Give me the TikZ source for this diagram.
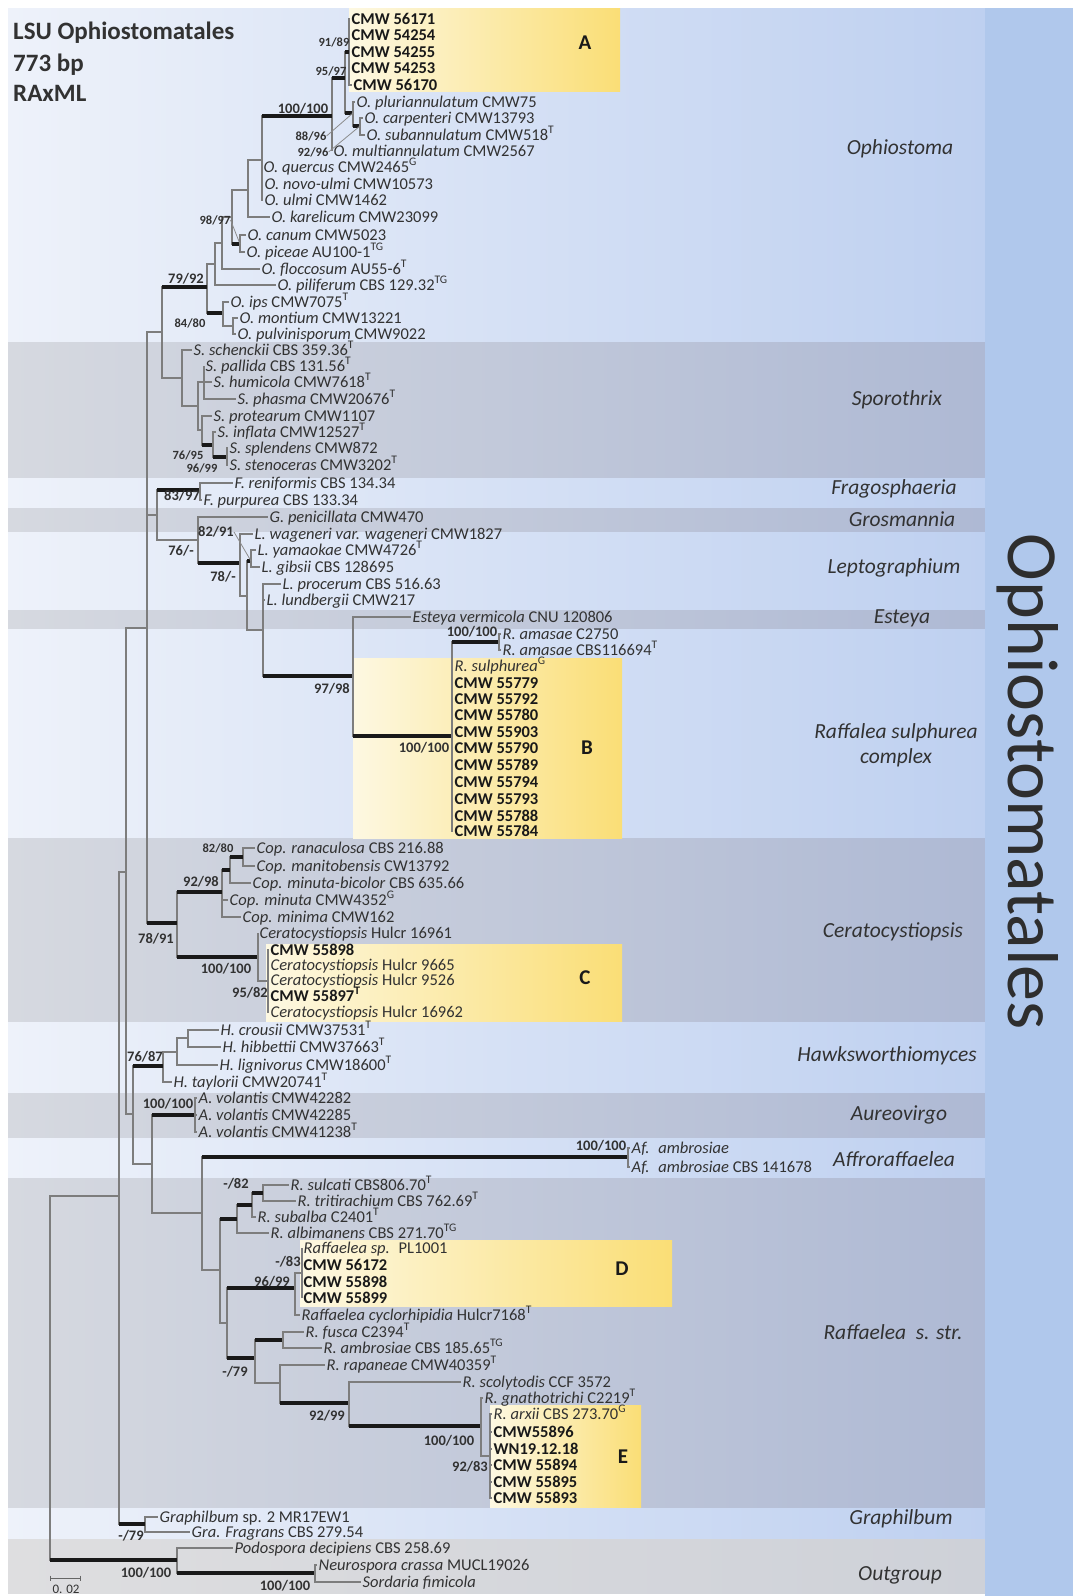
\documentclass[tikz,border=0pt]{standalone}
\usepackage{fontspec}
\setmainfont{Carlito}
\definecolor{lbL}{RGB}{238,242,250}
\definecolor{lbR}{RGB}{190,208,240}
\definecolor{dbL}{RGB}{214,217,224}
\definecolor{dbR}{RGB}{174,185,212}
\definecolor{ogL}{RGB}{222,222,224}
\definecolor{ogR}{RGB}{206,209,216}
\definecolor{rpanel}{RGB}{176,200,236}
\definecolor{yelL}{RGB}{253,248,226}
\definecolor{yelR}{RGB}{250,222,118}
\definecolor{txt}{RGB}{50,50,50}
\definecolor{brgrey}{RGB}{125,125,125}
\newcommand\spn[1]{\textit{#1}}
\newcommand\TS[1]{\textsuperscript{#1}}
\newcommand\tipfont{\fontsize{16.5}{18}\selectfont}
\newcommand\BrThin[2]{\draw[thinbr] (#1) |- (#2);}
\newcommand\BrThick[2]{\draw[thinbr] (#1) |- (#2);\draw[thickbr] (#1 |- #2) -- (#2);}
\begin{document}
\begin{tikzpicture}[x=1pt,y=-1pt,
  thinbr/.style={draw=brgrey, line width=1.3pt},
  thickbr/.style={draw=black!90, line width=3.4pt},
  taxon/.style={anchor=west, inner xsep=1.5pt, inner ysep=0pt, text height=12pt, text depth=2pt, font=\tipfont, text=txt},
  taxonb/.style={taxon, font=\tipfont\bfseries, text=black!90},
  supp/.style={inner sep=0pt, font=\fontsize{14.5}{16}\selectfont\bfseries, text=txt},
  supps/.style={inner sep=0pt, font=\fontsize{12.5}{14}\selectfont\bfseries, text=txt},
  cladelab/.style={inner sep=0pt, font=\fontsize{21.5}{25}\selectfont\itshape, text=txt, align=center},
  boxletter/.style={inner sep=0pt, font=\fontsize{21}{24}\selectfont\bfseries, text=black!90},
  leader/.style={draw=black!45, line width=0.8pt},
  titlef/.style={anchor=west, inner sep=0pt, font=\fontsize{25}{28}\selectfont\bfseries, text=txt}
]
\useasboundingbox (0,0) rectangle (1073,1596);
\fill[white] (0,0) rectangle (1073,1596);
% ---------- background bands ----------
\shade[left color=lbL, right color=lbR] (8,8) rectangle (985,342);
\shade[left color=dbL, right color=dbR] (8,342) rectangle (985,478);
\shade[left color=lbL, right color=lbR] (8,478) rectangle (985,508);
\shade[left color=dbL, right color=dbR] (8,508) rectangle (985,532);
\shade[left color=lbL, right color=lbR] (8,532) rectangle (985,610);
\shade[left color=dbL, right color=dbR] (8,610) rectangle (985,629);
\shade[left color=lbL, right color=lbR] (8,629) rectangle (985,838);
\shade[left color=dbL, right color=dbR] (8,838) rectangle (985,1022);
\shade[left color=lbL, right color=lbR] (8,1022) rectangle (985,1093);
\shade[left color=dbL, right color=dbR] (8,1093) rectangle (985,1138);
\shade[left color=lbL, right color=lbR] (8,1138) rectangle (985,1178);
\shade[left color=dbL, right color=dbR] (8,1178) rectangle (985,1508);
\shade[left color=lbL, right color=lbR] (8,1508) rectangle (985,1539);
\shade[left color=ogL, right color=ogR] (8,1539) rectangle (985,1593);
\fill[rpanel] (985,8) rectangle (1073,1596);
% ---------- yellow boxes ----------
\shade[left color=yelL, right color=yelR] (349,8) rectangle (620,91);
\shade[left color=yelL, right color=yelR] (353,658) rectangle (622,838);
\shade[left color=yelL, right color=yelR] (266,944) rectangle (622,1021);
\shade[left color=yelL, right color=yelR] (300,1240) rectangle (672,1306);
\shade[left color=yelL, right color=yelR] (490,1405) rectangle (641,1507);
% ---------- title ----------
\node[titlef] (ti1) at (13,33) {LSU Ophiostomatales};
\node[titlef] (ti2) at (13,65) {773 bp};
\node[titlef] (ti3) at (13,93) {RAxML};
% ---------- tips: Ophiostoma ----------
\node[taxonb] (tA1) at (350,19) {CMW 56171};
\node[taxonb] (tA2) at (350,35) {CMW 54254};
\node[taxonb] (tA3) at (350,52) {CMW 54255};
\node[taxonb] (tA4) at (350,68) {CMW 54253};
\node[taxonb] (tA5) at (352,85) {CMW 56170};
\node[taxon] (tPl) at (355,102) {\spn{O. pluriannulatum} CMW75};
\node[taxon] (tCa) at (363,118) {\spn{O. carpenteri} CMW13793};
\node[taxon] (tSu) at (365,135) {\spn{O. subannulatum} CMW518\TS{T}};
\node[taxon] (tMu) at (332,151) {\spn{O. multiannulatum} CMW2567};
\node[taxon] (tQu) at (262,167) {\spn{O. quercus} CMW2465\TS{G}};
\node[taxon] (tNo) at (263,184) {\spn{O. novo-ulmi} CMW10573};
\node[taxon] (tUl) at (263,200) {\spn{O. ulmi} CMW1462};
\node[taxon] (tKa) at (270,217) {\spn{O. karelicum} CMW23099};
\node[taxon] (tCn) at (246,235) {\spn{O. canum} CMW5023};
\node[taxon] (tPi) at (245,252) {\spn{O. piceae} AU100-1\TS{TG}};
\node[taxon] (tFl) at (260,269) {\spn{O. floccosum} AU55-6\TS{T}};
\node[taxon] (tPf) at (276,285) {\spn{O. piliferum} CBS 129.32\TS{TG}};
\node[taxon] (tIp) at (229,302) {\spn{O. ips} CMW7075\TS{T}};
\node[taxon] (tMo) at (238,318) {\spn{O. montium} CMW13221};
\node[taxon] (tPu) at (236,334) {\spn{O. pulvinisporum} CMW9022};
\coordinate (nA) at (349,52);
\coordinate (n346) at (345,78);
\coordinate (n353) at (353,113);
\coordinate (n360) at (360,126);
\coordinate (n332) at (332,116);
\coordinate (n262) at (262,160);
\coordinate (n248) at (248,190);
\coordinate (n240) at (240,244);
\coordinate (n232) at (232,217);
\coordinate (n222) at (222,243);
\coordinate (n215) at (215,264);
\coordinate (n207) at (207,287);
\coordinate (n223) at (223,313);
\coordinate (n233) at (233,326);
\coordinate (n162) at (162,332);
\BrThin{nA}{tA1.west}\BrThin{nA}{tA2.west}\BrThin{nA}{tA3.west}\BrThin{nA}{tA4.west}\BrThin{nA}{tA5.west}
\BrThick{n346}{nA}\BrThick{n346}{n353}
\BrThin{n353}{tPl.west}\BrThick{n353}{n360}
\BrThin{n360}{tCa.west}\BrThin{n360}{tSu.west}
\BrThick{n332}{n346}\BrThin{n332}{tMu.west}
\BrThick{n262}{n332}
\BrThin{n262}{tQu.west}\BrThin{n262}{tNo.west}\BrThin{n262}{tUl.west}
\BrThin{n248}{n262}\BrThin{n248}{tKa.west}
\BrThin{n232}{n248}\BrThick{n232}{n240}
\BrThin{n240}{tCn.west}\BrThin{n240}{tPi.west}
\BrThin{n222}{n232}\BrThin{n222}{tFl.west}
\BrThin{n215}{n222}\BrThin{n215}{tPf.west}
\BrThin{n207}{n215}\BrThick{n207}{n223}
\BrThin{n223}{tIp.west}\BrThin{n223}{n233}
\BrThin{n233}{tMo.west}\BrThin{n233}{tPu.west}
\BrThick{n162}{n207}
% ---------- Sporothrix ----------
\node[taxon] (tSc) at (192,350) {\spn{S. schenckii} CBS 359.36\TS{T}};
\node[taxon] (tPa) at (204,366) {\spn{S. pallida} CBS 131.56\TS{T}};
\node[taxon] (tHu) at (212,382) {\spn{S. humicola} CMW7618\TS{T}};
\node[taxon] (tPh) at (236,399) {\spn{S. phasma} CMW20676\TS{T}};
\node[taxon] (tPr) at (212,416) {\spn{S. protearum} CMW1107};
\node[taxon] (tIn) at (216,432) {\spn{S. inflata} CMW12527\TS{T}};
\node[taxon] (tSp) at (228,448) {\spn{S. splendens} CMW872};
\node[taxon] (tSt) at (228,465) {\spn{S. stenoceras} CMW3202\TS{T}};
\coordinate (n182) at (182,378);
\coordinate (n198s) at (198,406);
\coordinate (n204) at (204,382);
\coordinate (n202s) at (202,430);
\coordinate (n213) at (213,445);
\coordinate (n227s) at (227,457);
\BrThin{n162}{n182}
\BrThin{n182}{tSc.west}\BrThin{n182}{n198s}
\BrThin{n198s}{n204}\BrThin{n198s}{n202s}
\BrThin{n204}{tPa.west}\BrThin{n204}{tHu.west}\BrThin{n204}{tPh.west}
\BrThin{n202s}{tPr.west}\BrThick{n202s}{n213}
\BrThin{n213}{tIn.west}\BrThick{n213}{n227s}
\BrThin{n227s}{tSp.west}\BrThin{n227s}{tSt.west}
% ---------- Fragosphaeria / Grosmannia / Leptographium ----------
\node[taxon] (tFr) at (233,483) {\spn{F. reniformis} CBS 134.34};
\node[taxon] (tFp) at (202,500) {\spn{F. purpurea} CBS 133.34};
\node[taxon] (tGp) at (268,517) {\spn{G. penicillata} CMW470};
\node[taxon] (tWa) at (253,534) {\spn{L. wageneri var. wageneri} CMW1827};
\node[taxon] (tYa) at (256,550) {\spn{L. yamaokae} CMW4726\TS{T}};
\node[taxon] (tGi) at (260,567) {\spn{L. gibsii} CBS 128695};
\node[taxon] (tPc) at (281,584) {\spn{L. procerum} CBS 516.63};
\node[taxon] (tLu) at (265,600) {\spn{L. lundbergii} CMW217};
\coordinate (n200) at (200,490);
\coordinate (n157) at (157,515);
\coordinate (n198L) at (198,540);
\coordinate (n240L) at (240,563);
\coordinate (n247) at (247,596);
\coordinate (n251) at (251,561);
\coordinate (n263L) at (263,630);
\BrThick{n157}{n200}\BrThin{n200}{tFr.west}\BrThin{n200}{tFp.west}
\BrThin{n157}{n198L}
\BrThin{n198L}{tGp.west}\BrThick{n198L}{n240L}
\BrThin{n240L}{tWa.west}\BrThin{n240L}{n247}
\BrThick{n247}{n251}\BrThin{n251}{tYa.west}\BrThin{n251}{tGi.west}
\BrThin{n247}{n263L}
\BrThin{n263L}{tPc.west}\BrThin{n263L}{tLu.west}
% ---------- Esteya / R. sulphurea complex ----------
\node[taxon] (tEs) at (411,617) {\spn{Esteya vermicola} CNU 120806};
\node[taxon] (tAm1) at (501,634) {\spn{R. amasae} C2750};
\node[taxon] (tAm2) at (501,650) {\spn{R. amasae} CBS116694\TS{T}};
\node[taxon] (tRs) at (453,666) {\spn{R. sulphurea}\TS{G}};
\node[taxonb] (tB1) at (453,683) {CMW 55779};
\node[taxonb] (tB2) at (453,699) {CMW 55792};
\node[taxonb] (tB3) at (453,715) {CMW 55780};
\node[taxonb] (tB4) at (453,732) {CMW 55903};
\node[taxonb] (tB5) at (453,748) {CMW 55790};
\node[taxonb] (tB6) at (453,765) {CMW 55789};
\node[taxonb] (tB7) at (453,782) {CMW 55794};
\node[taxonb] (tB8) at (453,799) {CMW 55793};
\node[taxonb] (tB9) at (453,816) {CMW 55788};
\node[taxonb] (tB10) at (453,831) {CMW 55784};
\coordinate (nE) at (353,676);
\coordinate (nB) at (452,736);
\coordinate (nAm) at (499,642);
\BrThick{n263L}{nE}
\BrThin{nE}{tEs.west}\BrThick{nE}{nB}
\BrThick{nB}{nAm}\BrThin{nAm}{tAm1.west}\BrThin{nAm}{tAm2.west}
\BrThin{nB}{tRs.west}\BrThin{nB}{tB1.west}\BrThin{nB}{tB2.west}\BrThin{nB}{tB3.west}\BrThin{nB}{tB4.west}
\BrThin{nB}{tB5.west}\BrThin{nB}{tB6.west}\BrThin{nB}{tB7.west}\BrThin{nB}{tB8.west}\BrThin{nB}{tB9.west}\BrThin{nB}{tB10.west}
% ---------- Ceratocystiopsis ----------
\node[taxon] (tRa) at (255,848) {\spn{Cop. ranaculosa} CBS 216.88};
\node[taxon] (tMa) at (255,866) {\spn{Cop. manitobensis} CW13792};
\node[taxon] (tMb) at (251,883) {\spn{Cop. minuta-bicolor} CBS 635.66};
\node[taxon] (tMn) at (228,900) {\spn{Cop. minuta} CMW4352\TS{G}};
\node[taxon] (tMm) at (241,917) {\spn{Cop. minima} CMW162};
\node[taxon] (tH1) at (258,933) {\spn{Ceratocystiopsis} Hulcr 16961};
\node[taxonb] (tC1) at (269,950) {CMW 55898};
\node[taxon] (tC2) at (269,965) {\spn{Ceratocystiopsis} Hulcr 9665};
\node[taxon] (tC3) at (269,980) {\spn{Ceratocystiopsis} Hulcr 9526};
\node[taxonb] (tC4) at (269,996) {CMW 55897\TS{T}};
\node[taxon] (tC5) at (269,1012) {\spn{Ceratocystiopsis} Hulcr 16962};
\coordinate (n243) at (243,857);
\coordinate (n230) at (230,870);
\coordinate (n222c) at (222,892);
\coordinate (n268) at (268,981);
\coordinate (n258) at (258,957);
\coordinate (n177c) at (177,923);
\coordinate (n147) at (147,628);
\coordinate (n126) at (126,872);
\coordinate (n119) at (119,1196);
\coordinate (n50) at (50,1378);
\BrThin{n243}{tRa.west}\BrThin{n243}{tMa.west}
\BrThick{n230}{n243}\BrThin{n230}{tMb.west}
\BrThick{n222c}{n230}\BrThin{n222c}{tMn.west}\BrThin{n222c}{tMm.west}
\BrThick{n177c}{n222c}\BrThick{n177c}{n258}
\BrThin{n258}{tH1.west}\BrThin{n258}{n268}
\BrThin{n268}{tC1.west}\BrThin{n268}{tC2.west}\BrThin{n268}{tC3.west}\BrThin{n268}{tC4.west}\BrThin{n268}{tC5.west}
\BrThin{n147}{n162}\BrThin{n147}{n157}\BrThick{n147}{n177c}
% ---------- Hawksworthiomyces / Aureovirgo / Affroraffaelea ----------
\node[taxon] (tCr) at (219,1030) {\spn{H. crousii} CMW37531\TS{T}};
\node[taxon] (tHi) at (221,1047) {\spn{H. hibbettii} CMW37663\TS{T}};
\node[taxon] (tLi) at (218,1065) {\spn{H. lignivorus} CMW18600\TS{T}};
\node[taxon] (tTa) at (172,1082) {\spn{H. taylorii} CMW20741\TS{T}};
\node[taxon] (tAv1) at (197,1098) {\spn{A. volantis} CMW42282};
\node[taxon] (tAv2) at (197,1115) {\spn{A. volantis} CMW42285};
\node[taxon] (tAv3) at (197,1132) {\spn{A. volantis} CMW41238\TS{T}};
\node[taxon] (tAf1) at (630,1148) {\spn{Af.~ ambrosiae}};
\node[taxon] (tAf2) at (630,1167) {\spn{Af.~ ambrosiae} CBS 141678};
\coordinate (n188) at (188,1038);
\coordinate (n177h) at (177,1052);
\coordinate (n163) at (163,1066);
\coordinate (n133) at (133,1114);
\coordinate (n195) at (195,1115);
\coordinate (n152) at (152,1164);
\coordinate (n628) at (628,1157);
\coordinate (n202) at (202,1213);
\BrThin{n188}{tCr.west}\BrThin{n188}{tHi.west}
\BrThin{n177h}{n188}\BrThin{n177h}{tLi.west}
\BrThin{n163}{n177h}\BrThin{n163}{tTa.west}
\BrThick{n133}{n163}\BrThin{n133}{n152}
\BrThick{n152}{n195}\BrThin{n152}{n202}
\BrThin{n195}{tAv1.west}\BrThin{n195}{tAv2.west}\BrThin{n195}{tAv3.west}
\BrThick{n202}{n628}\BrThin{n628}{tAf1.west}\BrThin{n628}{tAf2.west}
\BrThin{n126}{n147}\BrThin{n126}{n133}
% ---------- Raffaelea s. str. ----------
\node[taxon] (tSul) at (289,1185) {\spn{R. sulcati} CBS806.70\TS{T}};
\node[taxon] (tTr) at (296,1201) {\spn{R. tritirachium} CBS 762.69\TS{T}};
\node[taxon] (tSb) at (256,1217) {\spn{R. subalba} C2401\TS{T}};
\node[taxon] (tAl) at (269,1233) {\spn{R. albimanens} CBS 271.70\TS{TG}};
\node[taxon] (tPL) at (302,1248) {\spn{Raffaelea sp.}~ PL1001};
\node[taxonb] (tD1) at (302,1265) {CMW 56172};
\node[taxonb] (tD2) at (302,1282) {CMW 55898};
\node[taxonb] (tD3) at (302,1298) {CMW 55899};
\node[taxon] (tCy) at (300,1315) {\spn{Raffaelea cyclorhipidia} Hulcr7168\TS{T}};
\node[taxon] (tFu) at (304,1332) {\spn{R. fusca} C2394\TS{T}};
\node[taxon] (tAb) at (322,1348) {\spn{R. ambrosiae} CBS 185.65\TS{TG}};
\node[taxon] (tRp) at (325,1365) {\spn{R. rapaneae} CMW40359\TS{T}};
\node[taxon] (tSco) at (461,1382) {\spn{R. scolytodis} CCF 3572};
\node[taxon] (tGn) at (483,1398) {\spn{R. gnathotrichi} C2219\TS{T}};
\node[taxon] (tE1) at (492,1414) {\spn{R. arxii} CBS 273.70\TS{G}};
\node[taxonb] (tE2) at (492,1432) {CMW55896};
\node[taxonb] (tE3) at (492,1449) {WN19.12.18};
\node[taxonb] (tE4) at (492,1465) {CMW 55894};
\node[taxonb] (tE5) at (492,1482) {CMW 55895};
\node[taxonb] (tE6) at (492,1498) {CMW 55893};
\coordinate (n263r) at (263,1193);
\coordinate (n252) at (252,1205);
\coordinate (n237) at (237,1219);
\coordinate (n220) at (220,1270);
\coordinate (n227r) at (227,1323);
\coordinate (n302) at (302,1273);
\coordinate (n295) at (295,1288);
\coordinate (n255) at (255,1358);
\coordinate (n283) at (283,1340);
\coordinate (n280) at (280,1383);
\coordinate (n349) at (349,1403);
\coordinate (n481) at (481,1426);
\coordinate (n490) at (490,1456);
\BrThin{n263r}{tSul.west}\BrThin{n263r}{tTr.west}
\BrThick{n252}{n263r}\BrThin{n252}{tSb.west}
\BrThick{n237}{n252}\BrThin{n237}{tAl.west}
\BrThick{n220}{n237}\BrThin{n220}{n227r}
\BrThin{n202}{n220}
\BrThick{n227r}{n295}\BrThick{n227r}{n255}
\BrThin{n295}{n302}\BrThin{n295}{tCy.west}
\BrThin{n302}{tPL.west}\BrThin{n302}{tD1.west}\BrThin{n302}{tD2.west}\BrThin{n302}{tD3.west}
\BrThick{n255}{n283}\BrThin{n255}{n280}
\BrThin{n283}{tFu.west}\BrThin{n283}{tAb.west}
\BrThin{n280}{tRp.west}\BrThick{n280}{n349}
\BrThin{n349}{tSco.west}\BrThick{n349}{n481}
\BrThin{n481}{tGn.west}\BrThin{n481}{n490}
\BrThin{n490}{tE1.west}\BrThin{n490}{tE2.west}\BrThin{n490}{tE3.west}\BrThin{n490}{tE4.west}\BrThin{n490}{tE5.west}\BrThin{n490}{tE6.west}
% ---------- Graphilbum / outgroup / root ----------
\node[taxon] (tGr1) at (158,1517) {\spn{Graphilbum} sp. 2 MR17EW1};
\node[taxon] (tGr2) at (190,1532) {\spn{Gra. Fragrans} CBS 279.54};
\node[taxon] (tPo) at (233,1548) {\spn{Podospora decipiens} CBS 258.69};
\node[taxon] (tNe) at (317,1565) {\spn{Neurospora crassa} MUCL19026};
\node[taxon] (tSo) at (361,1582) {\spn{Sordaria fimicola}};
\coordinate (n145) at (145,1524);
\coordinate (n177o) at (177,1560);
\coordinate (n315) at (315,1573);
\BrThin{n145}{tGr1.west}\BrThin{n145}{tGr2.west}
\BrThin{n119}{n126}\BrThick{n119}{n145}
\BrThin{n177o}{tPo.west}\BrThick{n177o}{n315}
\BrThin{n315}{tNe.west}\BrThin{n315}{tSo.west}
\BrThin{n50}{n119}\BrThick{n50}{n177o}
% ---------- support values ----------
\node[supps] (s1) at (334,42) {91/89};
\node[supps] (s2) at (331,71) {95/97};
\node[supp] (s3) at (303,109) {100/100};
\node[supps] (s4) at (311,136) {88/96};
\node[supps] (s5) at (313,152) {92/96};
\node[supps] (s6) at (215,220) {98/97};
\node[supp] (s7) at (186,279) {79/92};
\node[supps] (s8) at (190,323) {84/80};
\node[supps] (s9) at (188,455) {76/95};
\node[supps] (s10) at (202,468) {96/99};
\node[supp] (s11) at (182,496) {83/97};
\node[supp] (s12) at (216,532) {82/91};
\node[supp] (s13) at (181,551) {76/-};
\node[supp] (s14) at (223,577) {78/-};
\node[supp] (s15) at (332,689) {97/98};
\node[supp] (s16) at (472,632) {100/100};
\node[supp] (s17) at (424,748) {100/100};
\node[supps] (s18) at (218,848) {82/80};
\node[supp] (s19) at (201,882) {92/98};
\node[supp] (s20) at (156,939) {78/91};
\node[supp] (s21) at (226,969) {100/100};
\node[supp] (s22) at (250,993) {95/82};
\node[supp] (s23) at (145,1057) {76/87};
\node[supp] (s24) at (168,1104) {100/100};
\node[supp] (s25) at (601,1146) {100/100};
\node[supp] (s26) at (236,1184) {-/82};
\node[supp] (s27) at (288,1262) {-/83};
\node[supp] (s28) at (272,1282) {96/99};
\node[supp] (s29) at (235,1372) {-/79};
\node[supp] (s30) at (327,1416) {92/99};
\node[supp] (s31) at (449,1441) {100/100};
\node[supp] (s32) at (470,1467) {92/83};
\node[supp] (s33) at (131,1536) {-/79};
\node[supp] (s34) at (146,1573) {100/100};
\node[supp] (s35) at (285,1586) {100/100};
\draw[leader] (s4.east) -- (n353);
\draw[leader] (s5.east) -- (n360);
\draw[leader] (s6.east) -- (n240);
\draw[leader] (s12.east) -- (n251);
% ---------- box letters ----------
\node[boxletter] (LA) at (585,43) {A};
\node[boxletter] (LB) at (587,748) {B};
\node[boxletter] (LC) at (585,978) {C};
\node[boxletter] (LD) at (622,1269) {D};
\node[boxletter] (LE) at (623,1457) {E};
% ---------- clade names ----------
\node[cladelab] (c1) at (900,149) {Ophiostoma};
\node[cladelab] (c2) at (897,400) {Sporothrix};
\node[cladelab] (c3) at (894,489) {Fragosphaeria};
\node[cladelab] (c4) at (902,519) {Grosmannia};
\node[cladelab] (c5) at (894,568) {Leptographium};
\node[cladelab] (c6) at (902,618) {Esteya};
\node[cladelab] (c7) at (896,745) {Raffalea sulphurea\\complex};
\node[cladelab] (c8) at (893,932) {Ceratocystiopsis};
\node[cladelab] (c9) at (887,1056) {Hawksworthiomyces};
\node[cladelab] (c10) at (899,1115) {Aureovirgo};
\node[cladelab] (c11) at (894,1159) {Affroraffaelea};
\node[cladelab] (c12) at (893,1332) {Raffaelea~ s. str.};
\node[cladelab] (c13) at (901,1519) {Graphilbum};
\node[cladelab] (c14) at (900,1575) {Outgroup};
\node[rotate=-90, inner sep=0pt, font=\fontsize{72}{80}\selectfont, text=black!82] (big) at (1028,782) {Ophiostomatales};
% ---------- scale bar ----------
\coordinate (sb1) at (50,1578);
\coordinate (sb2) at (80,1578);
\draw[draw=black!60, line width=1pt] (sb1) -- (sb2);
\draw[draw=black!60, line width=1pt] (sb1) ++(0,-2.5) -- ++(0,5);
\draw[draw=black!60, line width=1pt] (sb2) ++(0,-2.5) -- ++(0,5);
\node[inner sep=0pt, font=\fontsize{13}{15}\selectfont, text=txt] (sbl) at (66,1589) {0. 02};
\end{tikzpicture}
\end{document}
